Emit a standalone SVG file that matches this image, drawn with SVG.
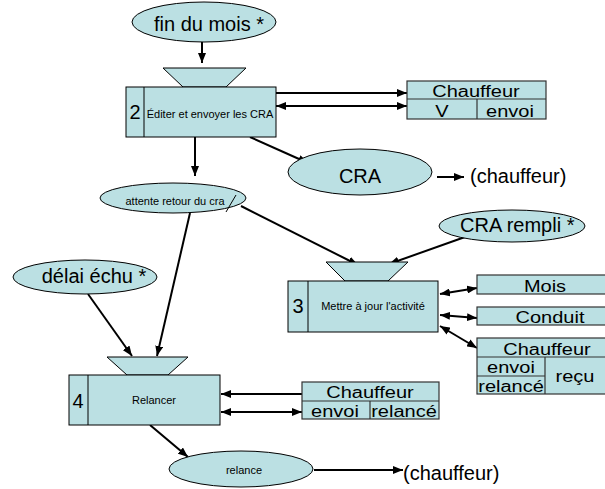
<svg xmlns="http://www.w3.org/2000/svg" width="605" height="489" viewBox="0 0 605 489">
<defs>
<marker id="ah" viewBox="0 0 10 8" refX="10" refY="4" markerWidth="10" markerHeight="8" markerUnits="userSpaceOnUse" orient="auto-start-reverse">
<path d="M0,0 L10,4 L0,8 z" fill="#000"/>
</marker>
<style>
.sh{fill:#bbe0e3;stroke:#000;stroke-width:1}
.tb{fill:#bbe0e3;stroke:#333;stroke-width:1.2}
.dv{stroke:#333;stroke-width:1.2}
.ln{fill:none;stroke:#000;stroke-width:2}
.big{font-family:"Liberation Sans",Arial,sans-serif;font-size:20px;fill:#000}
.sm{font-family:"Liberation Sans",Arial,sans-serif;font-size:11px;fill:#000}
.m{text-anchor:middle}
</style>
</defs>
<rect width="605" height="489" fill="#fff"/>

<g id="connectors">
<line class="ln" x1="202" y1="42" x2="202" y2="63" marker-end="url(#ah)"/>
<line class="ln" x1="276" y1="93" x2="407" y2="93" marker-end="url(#ah)"/>
<line class="ln" x1="276" y1="106" x2="407" y2="106" marker-start="url(#ah)" marker-end="url(#ah)"/>
<line class="ln" x1="250" y1="137" x2="308" y2="163" marker-end="url(#ah)"/>
<line class="ln" x1="437" y1="177" x2="464" y2="177" marker-end="url(#ah)"/>
<line class="ln" x1="195" y1="137" x2="195" y2="176" marker-end="url(#ah)"/>
<line class="ln" x1="241" y1="206" x2="358" y2="265" marker-end="url(#ah)"/>
<line class="ln" x1="465" y1="237" x2="389" y2="264" marker-end="url(#ah)"/>
<line class="ln" x1="440" y1="294" x2="477" y2="288" marker-start="url(#ah)" marker-end="url(#ah)"/>
<line class="ln" x1="440" y1="315" x2="477" y2="318" marker-start="url(#ah)" marker-end="url(#ah)"/>
<line class="ln" x1="440" y1="326" x2="477" y2="348" marker-start="url(#ah)" marker-end="url(#ah)"/>
<line class="ln" x1="88" y1="294" x2="132" y2="356" marker-end="url(#ah)"/>
<line class="ln" x1="190" y1="213" x2="157" y2="356" marker-end="url(#ah)"/>
<line class="ln" x1="302" y1="394" x2="221" y2="394" marker-end="url(#ah)"/>
<line class="ln" x1="221" y1="412" x2="302" y2="412" marker-start="url(#ah)" marker-end="url(#ah)"/>
<line class="ln" x1="150" y1="425" x2="188" y2="457" marker-end="url(#ah)"/>
<line class="ln" x1="314" y1="470" x2="403" y2="470" marker-end="url(#ah)"/>
</g>

<g id="fin-du-mois">
<ellipse class="sh" cx="204" cy="22" rx="72" ry="20"/>
<text class="big m" x="209" y="31">fin du mois *</text>
</g>

<g id="process-2">
<polygon class="sh" points="163,68 246,68 226,87 183,87"/>
<rect class="sh" x="126" y="87" width="150" height="50"/>
<line x1="144" y1="87" x2="144" y2="137" stroke="#000" stroke-width="1"/>
<text class="big m" x="135" y="119">2</text>
<text class="sm m" x="210" y="118">Éditer et envoyer les CRA</text>
</g>

<g id="table-chauffeur-1">
<rect class="tb" x="407" y="81" width="139" height="38"/>
<line class="dv" x1="407" y1="99" x2="546" y2="99"/>
<line class="dv" x1="477" y1="99" x2="477" y2="119"/>
<text class="big m" transform="translate(476,97) scale(1,0.8)">Chauffeur</text>
<text class="big m" transform="translate(442,117) scale(1,0.8)">V</text>
<text class="big m" transform="translate(510,117) scale(1,0.8)">envoi</text>
</g>

<g id="cra">
<ellipse class="sh" cx="360" cy="172" rx="72" ry="23"/>
<text class="big m" x="360" y="183">CRA</text>
</g>
<g id="chauffeur-out-1">
<text class="big" x="470" y="183">(chauffeur)</text>
</g>

<g id="attente">
<ellipse class="sh" cx="173" cy="198" rx="73" ry="15"/>
<text class="sm m" x="175" y="205">attente retour du cra</text>
<line x1="226" y1="212" x2="236" y2="195" stroke="#000" stroke-width="1"/>
</g>

<g id="cra-rempli">
<ellipse class="sh" cx="512" cy="226" rx="73" ry="16"/>
<text class="big" x="460" y="232">CRA rempli *</text>
</g>

<g id="process-3">
<polygon class="sh" points="326,262 408,262 388,281 345,281"/>
<rect class="sh" x="288" y="281" width="150" height="51"/>
<line x1="308" y1="281" x2="308" y2="332" stroke="#000" stroke-width="1"/>
<text class="big m" x="298" y="313">3</text>
<text class="sm m" x="373" y="310">Mettre à jour l'activité</text>
</g>

<g id="table-mois">
<rect class="tb" x="477" y="275" width="136" height="19"/>
<text class="big m" transform="translate(545,292) scale(1,0.8)">Mois</text>
</g>
<g id="table-conduit">
<rect class="tb" x="477" y="307" width="136" height="18"/>
<text class="big m" transform="translate(550,323) scale(1,0.8)">Conduit</text>
</g>
<g id="table-chauffeur-3">
<rect class="tb" x="477" y="338" width="136" height="56"/>
<line class="dv" x1="477" y1="357" x2="613" y2="357"/>
<line class="dv" x1="545" y1="357" x2="545" y2="394"/>
<line class="dv" x1="477" y1="376" x2="545" y2="376"/>
<text class="big m" transform="translate(547,355) scale(1,0.78)">Chauffeur</text>
<text class="big m" transform="translate(511,373) scale(1,0.78)">envoi</text>
<text class="big m" transform="translate(511,392) scale(1,0.78)">relancé</text>
<text class="big m" transform="translate(575,382) scale(1,0.8)">reçu</text>
</g>

<g id="delai-echu">
<ellipse class="sh" cx="85" cy="277" rx="72" ry="17"/>
<text class="big m" x="94" y="283">délai échu *</text>
</g>

<g id="process-4">
<polygon class="sh" points="107,357 188,357 168,375 127,375"/>
<rect class="sh" x="69" y="375" width="151" height="50"/>
<line x1="88" y1="375" x2="88" y2="425" stroke="#000" stroke-width="1"/>
<text class="big m" x="78" y="408">4</text>
<text class="sm m" x="154" y="404">Relancer</text>
</g>

<g id="table-chauffeur-4">
<rect class="tb" x="302" y="382" width="137" height="37"/>
<line class="dv" x1="302" y1="401" x2="439" y2="401"/>
<line class="dv" x1="370" y1="401" x2="370" y2="419"/>
<text class="big m" transform="translate(370,398) scale(1,0.8)">Chauffeur</text>
<text class="big m" transform="translate(335,417) scale(1,0.8)">envoi</text>
<text class="big m" transform="translate(404,417) scale(1,0.8)">relancé</text>
</g>

<g id="relance">
<ellipse class="sh" cx="241" cy="469" rx="72" ry="18"/>
<text class="sm m" x="244" y="474">relance</text>
</g>
<g id="chauffeur-out-2">
<text class="big" x="403" y="480">(chauffeur)</text>
</g>
</svg>
